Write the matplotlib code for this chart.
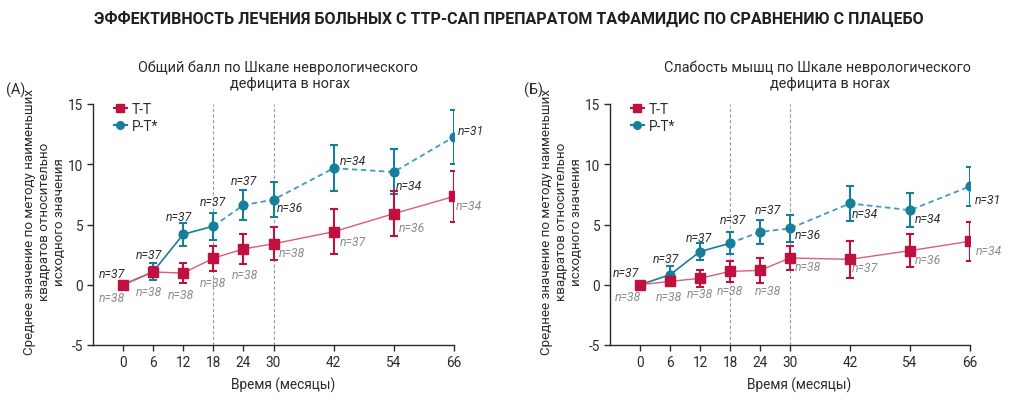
import matplotlib
matplotlib.use("Agg")
import matplotlib.pyplot as plt
from matplotlib.lines import Line2D

plt.rcParams['font.family'] = ['Roboto', 'DejaVu Sans']

# ---------------- data ----------------
months = [0, 6, 12, 18, 24, 30, 42, 54, 66]
xticks = [0, 6, 12, 18, 24, 30, 42, 54, 66]
yticks = [-5, 0, 5, 10, 15]

# Panel A: total NIS-LL
a_tt = [0, 1.06, 0.97, 2.2, 2.97, 3.4, 4.4, 5.9, 7.33]
a_tt_err = [0, 0.4, 0.86, 1.04, 1.22, 1.36, 1.87, 1.89, 2.15]
a_pt = [0, 1.08, 4.19, 4.86, 6.61, 7.06, 9.67, 9.36, 12.28]
a_pt_err = [0, 0.69, 0.94, 1.11, 1.23, 1.46, 1.9, 1.87, 2.22]
a_tt_n = [38, 38, 38, 38, 38, 38, 37, 36, 34]
a_pt_n = [37, 37, 37, 37, 37, 36, 34, 34, 31]

# Panel B: muscle weakness NIS-LL
b_tt = [0, 0.28, 0.53, 1.11, 1.19, 2.22, 2.11, 2.83, 3.61]
b_tt_err = [0, 0.3, 0.71, 0.9, 1.01, 1.03, 1.51, 1.36, 1.6]
b_pt = [0, 0.83, 2.75, 3.44, 4.39, 4.67, 6.75, 6.19, 8.17]
b_pt_err = [0, 0.76, 0.68, 0.92, 1.0, 1.14, 1.47, 1.42, 1.62]
b_tt_n = [38, 38, 38, 38, 38, 38, 37, 36, 34]
b_pt_n = [37, 37, 37, 37, 37, 36, 34, 34, 31]

series_labels = ['T-T', 'P-T*']
title = 'ЭФФЕКТИВНОСТЬ ЛЕЧЕНИЯ БОЛЬНЫХ С ТТР-САП ПРЕПАРАТОМ ТАФАМИДИС ПО СРАВНЕНИЮ С ПЛАЦЕБО'
a_title = ['Общий балл по Шкале неврологического', 'дефицита в ногах']
b_title = ['Слабость мышц по Шкале неврологического', 'дефицита в ногах']
ylabel = 'Среднее значение по методу наименьших\nквадратов относительно\nисходного значения'
xlabel = 'Время (месяцы)'

# label offsets in pixels (styling)
a_pt_off = [(-11, 11), (-4, 17), (-4, 18), (0, 25), (1, 25), (16, -8), (19, 8), (15, -14), (17, 6)]
a_tt_off = [(-11, -13), (-4, -20), (-2, -21), (0, -24), (2, -26), (18, -9), (19, -10), (18, -14), (15, -9)]
b_pt_off = [(-14, 12), (-4, 16), (-1, 14), (3, 24), (8, 22), (18, -6), (15, -10), (18, -8), (18, -13)]
b_tt_off = [(-12, -12), (-1, -15), (0, -15), (0, -19), (8, -20), (18, -9), (15, -8), (18, -9), (19, -9)]

RED = '#c0103f'
RED_LINE = '#d4607a'
BLUE = '#177f9b'
BLUE_LINE = '#3f9dbb'
DARK = '#2b2b2b'
GRAY = '#8a8a8a'

fig = plt.figure(figsize=(10.24, 4.06), dpi=100)
W, H = 1024, 406


def make_axes(x0, x1, y_top, y_bot):
    return fig.add_axes([x0 / W, 1 - y_bot / H, (x1 - x0) / W, (y_bot - y_top) / H])


def draw_panel(ax, tt, tt_err, pt, pt_err, tt_n, pt_n, tt_off, pt_off, titles, letter, title_x, letter_x):
    ax.set_xlim(-6, 66)
    ax.set_ylim(-5, 15)
    for v in (18, 30):
        ax.axvline(v, color='#9a9a9a', lw=0.8, ls=(0, (3, 2)), zorder=0)
    k = months.index(18)
    ax.plot(months[:k + 1], pt[:k + 1], color=BLUE, lw=1.2, zorder=2)
    ax.plot(months[k:], pt[k:], color=BLUE_LINE, lw=1.3, ls=(0, (3, 2)), zorder=2)
    ax.errorbar(months, pt, yerr=pt_err, fmt='o', color=BLUE, ms=6.3, capsize=3.2,
                elinewidth=1.5, capthick=1.5, zorder=3)
    ax.plot(months, tt, color=RED_LINE, lw=1.0, zorder=4)
    ax.errorbar(months, tt, yerr=tt_err, fmt='s', color=RED, ms=6.8, capsize=3.2,
                elinewidth=1.5, capthick=1.5, zorder=5)
    for x, y, n, off in zip(months, pt, pt_n, pt_off):
        ax.annotate(f'n={n}', (x, y), xytext=off, textcoords='offset pixels',
                    ha='center', va='center', fontsize=8.7, style='italic', color=DARK, zorder=6)
    for x, y, n, off in zip(months, tt, tt_n, tt_off):
        ax.annotate(f'n={n}', (x, y), xytext=off, textcoords='offset pixels',
                    ha='center', va='center', fontsize=8.7, style='italic', color=GRAY, zorder=6)
    for s in ('top', 'right'):
        ax.spines[s].set_visible(False)
    for s in ('left', 'bottom'):
        ax.spines[s].set_color(DARK)
        ax.spines[s].set_linewidth(1.0)
    ax.set_xticks(xticks)
    ax.set_xticklabels([str(t) for t in xticks])
    ax.set_yticks(yticks)
    ax.set_yticklabels([str(t) for t in yticks])
    ax.tick_params(direction='out', length=4, width=1, colors=DARK, labelsize=9.8, pad=3)
    ax.set_xlabel(xlabel, fontsize=9.8, color=DARK)
    ax.xaxis.set_label_coords(0.526, -0.13)
    ax.set_ylabel(ylabel, fontsize=9.6, color=DARK, linespacing=1.2)
    ax.yaxis.set_label_coords(-0.074, 0.515)
    handles = [Line2D([], [], color=RED, marker='s', ms=5.5, lw=1.5),
               Line2D([], [], color=BLUE, marker='o', ms=5.5, lw=1.5)]
    ax.legend(handles, series_labels, loc='upper left', bbox_to_anchor=(0.025, 1.06), frameon=False,
              handlelength=0.9, handletextpad=0.4, labelspacing=0.2, fontsize=9.8, labelcolor=DARK)
    fig.text(title_x[0] / W, 1 - 68 / H, titles[0], ha='center', va='center', fontsize=10.4, color=DARK)
    fig.text(title_x[1] / W, 1 - 84 / H, titles[1], ha='center', va='center', fontsize=10.4, color=DARK)
    fig.text(letter_x / W, 1 - 90 / H, letter, ha='left', va='center', fontsize=10.4, color=DARK)


axA = make_axes(93, 454, 105, 346)
axB = make_axes(610, 970, 105, 346)
draw_panel(axA, a_tt, a_tt_err, a_pt, a_pt_err, a_tt_n, a_pt_n, a_tt_off, a_pt_off,
           a_title, '(А)', (278, 290), 6)
draw_panel(axB, b_tt, b_tt_err, b_pt, b_pt_err, b_tt_n, b_pt_n, b_tt_off, b_pt_off,
           b_title, '(Б)', (817, 830), 524)

t = fig.text(509 / W, 1 - 19 / H, title, ha='center', va='center', fontsize=12, fontweight='bold',
             color='#231f20')
# fit title width to the reference span (~832 px)
renderer = fig.canvas.get_renderer()
w = t.get_window_extent(renderer).width
t.set_fontsize(12 * 832 / w)

fig.savefig('out.png', dpi=100)
